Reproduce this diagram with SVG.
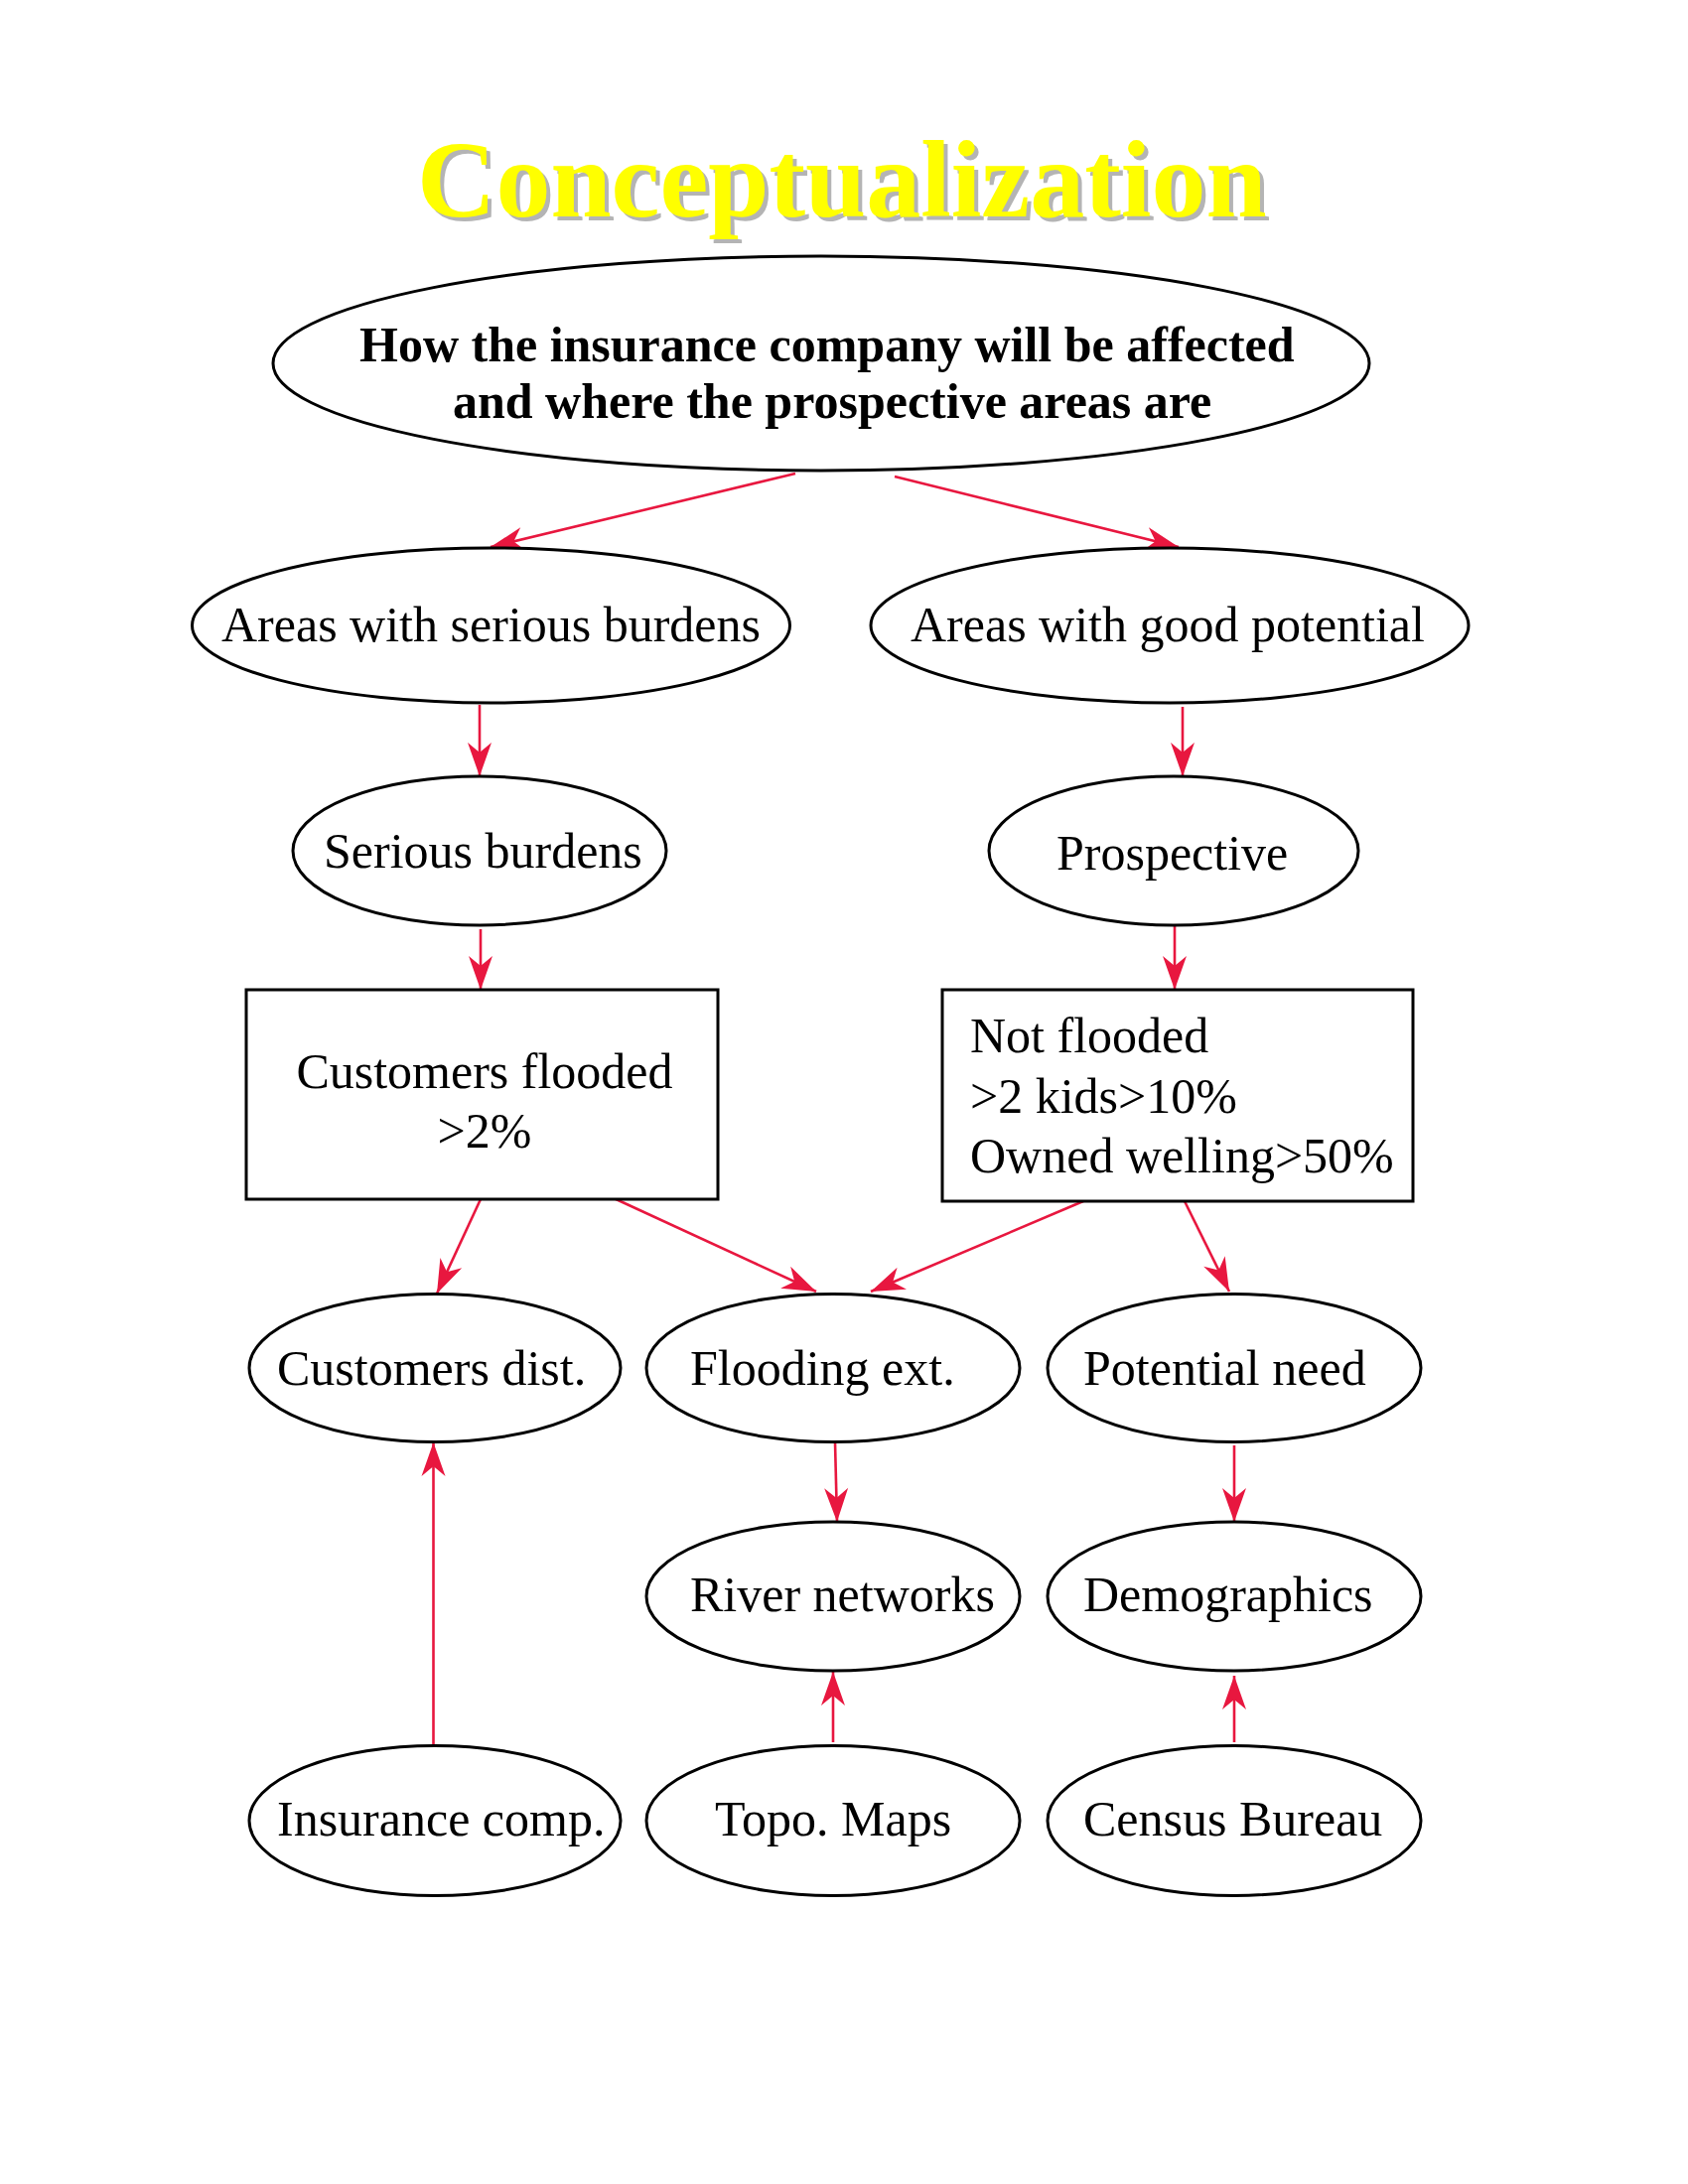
<svg xmlns="http://www.w3.org/2000/svg" width="1700" height="2200" viewBox="0 0 1700 2200">
<style>
.n{fill:#fff;stroke:#000;stroke-width:3}
.t{font-family:"Liberation Serif","Times New Roman",serif;font-size:50px;fill:#000}
.b{font-weight:bold}
.c{stroke:#E8173F;stroke-width:2.6;fill:none;marker-end:url(#ah)}
.title{font-family:"Liberation Serif","Times New Roman",serif;font-size:110px;font-weight:bold}
</style>
<defs>
<marker id="ah" markerUnits="userSpaceOnUse" viewBox="-36 -14 40 28" refX="0" refY="0" markerWidth="40" markerHeight="28" orient="auto">
<path d="M0,0 L-34,-12 L-24,0 L-34,12 Z" fill="#E8173F"/>
</marker>
</defs>
<rect width="1700" height="2200" fill="#fff"/>
<g id="title">
<text class="title" x="424" y="222" fill="#b4b4b4">Conceptualization</text>
<text class="title" x="420" y="218" fill="#ffff00">Conceptualization</text>
</g>
<g id="connectors">
<line class="c" x1="801" y1="477" x2="494" y2="551"/>
<line class="c" x1="901" y1="480" x2="1187" y2="551"/>
<line class="c" x1="483" y1="710" x2="483" y2="782"/>
<line class="c" x1="1191" y1="712" x2="1191" y2="782"/>
<line class="c" x1="484" y1="936" x2="484" y2="997"/>
<line class="c" x1="1183" y1="932" x2="1183" y2="997"/>
<line class="c" x1="484" y1="1208" x2="440" y2="1303"/>
<line class="c" x1="616" y1="1206" x2="822" y2="1301"/>
<line class="c" x1="1091" y1="1210" x2="877" y2="1301"/>
<line class="c" x1="1192" y1="1208" x2="1238" y2="1301"/>
<line class="c" x1="841" y1="1453" x2="843" y2="1533"/>
<line class="c" x1="1243" y1="1456" x2="1243" y2="1533"/>
<line class="c" x1="436.5" y1="1758" x2="436.5" y2="1453"/>
<line class="c" x1="839" y1="1755" x2="839" y2="1684"/>
<line class="c" x1="1243" y1="1755" x2="1243" y2="1688"/>
</g>
<g id="root">
<ellipse class="n" cx="827" cy="366" rx="552" ry="108"/>
<text class="t b" x="362" y="364">How the insurance company will be affected</text>
<text class="t b" x="456" y="421">and where the prospective areas are</text>
</g>
<g id="areas-serious">
<ellipse class="n" cx="494.5" cy="630" rx="301" ry="78"/>
<text class="t" x="223" y="646">Areas with serious burdens</text>
</g>
<g id="areas-good">
<ellipse class="n" cx="1178" cy="630" rx="301" ry="78"/>
<text class="t" x="917" y="646">Areas with good potential</text>
</g>
<g id="serious-burdens">
<ellipse class="n" cx="483" cy="857" rx="188" ry="75"/>
<text class="t" x="326" y="874">Serious burdens</text>
</g>
<g id="prospective">
<ellipse class="n" cx="1182" cy="857" rx="186" ry="75"/>
<text class="t" x="1064" y="876">Prospective</text>
</g>
<g id="customers-flooded">
<rect class="n" x="248" y="997" width="475" height="211"/>
<text class="t" x="488" y="1096" text-anchor="middle">Customers flooded</text>
<text class="t" x="488" y="1156" text-anchor="middle">&gt;2%</text>
</g>
<g id="not-flooded">
<rect class="n" x="949" y="997" width="474" height="213"/>
<text class="t" x="977" y="1060">Not flooded</text>
<text class="t" x="977" y="1121">&gt;2 kids&gt;10%</text>
<text class="t" x="977" y="1181">Owned welling&gt;50%</text>
</g>
<g id="customers-dist">
<ellipse class="n" cx="438" cy="1378" rx="187" ry="74.5"/>
<text class="t" x="279" y="1395">Customers dist.</text>
</g>
<g id="flooding-ext">
<ellipse class="n" cx="839" cy="1378" rx="188" ry="74.5"/>
<text class="t" x="695" y="1395">Flooding ext.</text>
</g>
<g id="potential-need">
<ellipse class="n" cx="1243" cy="1378" rx="188" ry="74.5"/>
<text class="t" x="1091" y="1395">Potential need</text>
</g>
<g id="river-networks">
<ellipse class="n" cx="839" cy="1608" rx="188" ry="75"/>
<text class="t" x="695" y="1623">River networks</text>
</g>
<g id="demographics">
<ellipse class="n" cx="1243" cy="1608" rx="188" ry="75"/>
<text class="t" x="1091" y="1623">Demographics</text>
</g>
<g id="insurance-comp">
<ellipse class="n" cx="438" cy="1834" rx="187" ry="75.5"/>
<text class="t" x="279" y="1849">Insurance comp.</text>
</g>
<g id="topo-maps">
<ellipse class="n" cx="839" cy="1834" rx="188" ry="75.5"/>
<text class="t" x="720" y="1849">Topo. Maps</text>
</g>
<g id="census-bureau">
<ellipse class="n" cx="1243" cy="1834" rx="188" ry="75.5"/>
<text class="t" x="1091" y="1849">Census Bureau</text>
</g>
</svg>
